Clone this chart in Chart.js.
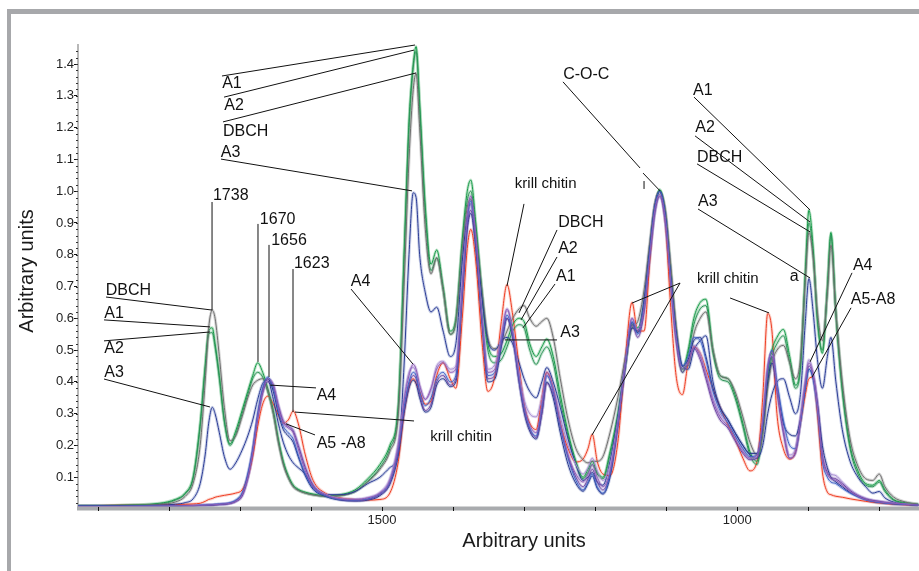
<!DOCTYPE html>
<html>
<head>
<meta charset="utf-8">
<script src="https://cdn.jsdelivr.net/npm/chart.js@4.4.1/dist/chart.umd.min.js"></script>
<style>
    html, body { margin: 0; padding: 0; background: #fff; }
    #wrap { position: relative; width: 919px; height: 571px; overflow: hidden; }
    #frame { position: absolute; left: 7px; top: 9px; width: 940px; height: 600px;
             border-top: 5px solid #a7a8ab; border-left: 4px solid #a7a8ab; }
    #spectra { position: absolute; left: 0; top: 0; }
</style>
</head>
<body>
<div id="wrap">
    <div id="frame"></div>
    <canvas id="spectra" width="919" height="571"></canvas>
</div>
<script>
// 波数 (cm-1)，从高到低
const wavenumbers = [
    1928, 1869, 1813, 1791, 1777, 1766, 1756, 1749, 1744, 1739,
    1735, 1729, 1722, 1714, 1706, 1697, 1689, 1682, 1675, 1668,
    1661, 1653, 1646, 1639, 1632, 1625, 1618, 1608, 1597, 1580,
    1559, 1538, 1520, 1503, 1489, 1477, 1469, 1462, 1456, 1452,
    1447, 1439, 1431, 1423, 1414, 1404, 1396, 1387, 1380, 1375,
    1368, 1359, 1351, 1341, 1332, 1324, 1316, 1307, 1300, 1292,
    1283, 1275, 1268, 1259, 1249, 1238, 1227, 1217, 1210, 1204,
    1197, 1189, 1179, 1168, 1158, 1148, 1140, 1131, 1123, 1116,
    1109, 1101, 1094, 1086, 1077, 1069, 1061, 1052, 1044, 1034,
    1024, 1013, 1003, 992, 982, 972, 964, 957, 951, 944,
    935, 926, 918, 911, 904, 899, 893, 887, 880, 873,
    868, 861, 852, 841, 830, 819, 809, 800, 792, 780,
    763, 745
];

const a1Values = [
    0.010, 0.012, 0.018, 0.030, 0.050, 0.100, 0.270, 0.450, 0.560, 0.570,
    0.520, 0.420, 0.280, 0.205, 0.245, 0.310, 0.370, 0.420, 0.460, 0.430,
    0.380, 0.310, 0.220, 0.150, 0.105, 0.075, 0.062, 0.053, 0.047, 0.042,
    0.045, 0.060, 0.095, 0.140, 0.200, 0.330, 0.800, 1.220, 1.400, 1.455,
    1.280, 0.950, 0.770, 0.815, 0.700, 0.560, 0.600, 0.850, 1.000, 1.035,
    0.900, 0.680, 0.520, 0.480, 0.490, 0.530, 0.580, 0.600, 0.590, 0.520,
    0.480, 0.510, 0.535, 0.480, 0.360, 0.240, 0.150, 0.100, 0.125, 0.150,
    0.115, 0.100, 0.180, 0.300, 0.450, 0.580, 0.570, 0.650, 0.820, 0.950,
    1.005, 0.930, 0.760, 0.560, 0.440, 0.500, 0.600, 0.650, 0.660, 0.500,
    0.420, 0.410, 0.360, 0.270, 0.180, 0.150, 0.260, 0.420, 0.500, 0.540,
    0.565, 0.480, 0.390, 0.450, 0.750, 0.940, 0.820, 0.600, 0.490, 0.700,
    0.870, 0.620, 0.380, 0.200, 0.120, 0.080, 0.075, 0.090, 0.060, 0.030,
    0.020, 0.015
];

const a2Values = [
    0.010, 0.011, 0.016, 0.028, 0.048, 0.095, 0.260, 0.440, 0.550, 0.555,
    0.510, 0.410, 0.275, 0.200, 0.235, 0.300, 0.360, 0.410, 0.430, 0.415,
    0.370, 0.300, 0.215, 0.145, 0.100, 0.072, 0.060, 0.050, 0.045, 0.040,
    0.042, 0.055, 0.088, 0.130, 0.190, 0.320, 0.780, 1.200, 1.390, 1.440,
    1.260, 0.930, 0.750, 0.790, 0.690, 0.550, 0.590, 0.830, 0.970, 1.000,
    0.880, 0.660, 0.500, 0.460, 0.470, 0.510, 0.560, 0.580, 0.570, 0.500,
    0.455, 0.490, 0.510, 0.460, 0.340, 0.230, 0.140, 0.095, 0.115, 0.140,
    0.110, 0.095, 0.170, 0.290, 0.440, 0.570, 0.560, 0.640, 0.810, 0.940,
    1.000, 0.920, 0.750, 0.550, 0.430, 0.490, 0.580, 0.630, 0.640, 0.490,
    0.410, 0.400, 0.350, 0.260, 0.170, 0.140, 0.250, 0.400, 0.480, 0.520,
    0.545, 0.460, 0.380, 0.440, 0.730, 0.900, 0.800, 0.590, 0.500, 0.690,
    0.860, 0.610, 0.370, 0.190, 0.110, 0.075, 0.070, 0.085, 0.055, 0.028,
    0.018, 0.013
];

const dbchValues = [
    0.010, 0.011, 0.015, 0.022, 0.040, 0.080, 0.200, 0.400, 0.570, 0.625,
    0.600, 0.480, 0.320, 0.215, 0.230, 0.290, 0.350, 0.390, 0.405, 0.410,
    0.375, 0.300, 0.210, 0.140, 0.098, 0.070, 0.058, 0.050, 0.044, 0.040,
    0.042, 0.055, 0.085, 0.125, 0.180, 0.300, 0.700, 1.100, 1.320, 1.370,
    1.200, 0.880, 0.740, 0.790, 0.690, 0.550, 0.590, 0.820, 0.950, 0.975,
    0.870, 0.680, 0.540, 0.505, 0.520, 0.560, 0.600, 0.630, 0.640, 0.600,
    0.575, 0.590, 0.600, 0.540, 0.410, 0.280, 0.190, 0.155, 0.145, 0.150,
    0.150, 0.165, 0.240, 0.350, 0.470, 0.570, 0.590, 0.690, 0.840, 0.960,
    1.000, 0.940, 0.780, 0.580, 0.450, 0.450, 0.550, 0.600, 0.620, 0.500,
    0.420, 0.410, 0.370, 0.290, 0.210, 0.170, 0.230, 0.380, 0.460, 0.500,
    0.515, 0.460, 0.410, 0.470, 0.720, 0.870, 0.790, 0.620, 0.530, 0.680,
    0.830, 0.620, 0.400, 0.220, 0.135, 0.095, 0.090, 0.110, 0.070, 0.038,
    0.022, 0.015
];

const a3Values = [
    0.010, 0.010, 0.012, 0.015, 0.020, 0.032, 0.080, 0.170, 0.270, 0.320,
    0.300, 0.240, 0.165, 0.125, 0.145, 0.185, 0.230, 0.280, 0.345, 0.395,
    0.405, 0.345, 0.270, 0.210, 0.170, 0.145, 0.130, 0.110, 0.070, 0.045,
    0.045, 0.055, 0.080, 0.100, 0.130, 0.180, 0.450, 0.800, 0.995, 0.980,
    0.800, 0.680, 0.620, 0.635, 0.560, 0.480, 0.520, 0.780, 0.920, 0.960,
    0.850, 0.660, 0.530, 0.500, 0.530, 0.540, 0.520, 0.460, 0.410, 0.370,
    0.350, 0.400, 0.445, 0.400, 0.320, 0.220, 0.140, 0.090, 0.100, 0.115,
    0.085, 0.075, 0.150, 0.290, 0.450, 0.570, 0.560, 0.660, 0.820, 0.950,
    1.000, 0.920, 0.740, 0.560, 0.450, 0.440, 0.500, 0.530, 0.545, 0.400,
    0.320, 0.280, 0.240, 0.200, 0.170, 0.160, 0.200, 0.300, 0.360, 0.400,
    0.410, 0.350, 0.300, 0.360, 0.590, 0.725, 0.620, 0.470, 0.380, 0.480,
    0.540, 0.400, 0.250, 0.150, 0.100, 0.070, 0.050, 0.055, 0.035, 0.022,
    0.015, 0.012
];

const a4Values = [
    0.008, 0.008, 0.009, 0.010, 0.010, 0.011, 0.012, 0.012, 0.013, 0.013,
    0.014, 0.015, 0.016, 0.018, 0.025, 0.045, 0.100, 0.180, 0.290, 0.370,
    0.410, 0.390, 0.320, 0.270, 0.255, 0.240, 0.190, 0.120, 0.070, 0.045,
    0.032, 0.030, 0.035, 0.050, 0.090, 0.200, 0.340, 0.420, 0.455, 0.440,
    0.390, 0.345, 0.380, 0.440, 0.460, 0.430, 0.440, 0.700, 0.920, 0.985,
    0.860, 0.600, 0.430, 0.440, 0.540, 0.630, 0.560, 0.420, 0.330, 0.265,
    0.240, 0.330, 0.430, 0.380, 0.270, 0.170, 0.110, 0.085, 0.110, 0.140,
    0.100, 0.070, 0.120, 0.270, 0.450, 0.600, 0.560, 0.630, 0.800, 0.940,
    0.990, 0.910, 0.730, 0.540, 0.440, 0.460, 0.510, 0.480, 0.420, 0.340,
    0.290, 0.260, 0.220, 0.180, 0.160, 0.170, 0.280, 0.450, 0.495, 0.380,
    0.250, 0.160, 0.180, 0.280, 0.400, 0.460, 0.420, 0.320, 0.160, 0.110,
    0.095, 0.090, 0.075, 0.055, 0.040, 0.030, 0.025, 0.022, 0.020, 0.018,
    0.015, 0.012
];

const a5Values = [
    0.009, 0.009, 0.010, 0.010, 0.011, 0.011, 0.012, 0.013, 0.013, 0.014,
    0.015, 0.016, 0.017, 0.020, 0.028, 0.050, 0.110, 0.190, 0.300, 0.380,
    0.415, 0.380, 0.310, 0.260, 0.240, 0.220, 0.170, 0.110, 0.065, 0.042,
    0.030, 0.028, 0.032, 0.048, 0.085, 0.190, 0.320, 0.400, 0.430, 0.420,
    0.370, 0.325, 0.350, 0.410, 0.430, 0.400, 0.420, 0.690, 0.910, 0.970,
    0.850, 0.600, 0.420, 0.430, 0.530, 0.610, 0.550, 0.410, 0.320, 0.255,
    0.230, 0.320, 0.420, 0.370, 0.260, 0.160, 0.090, 0.060, 0.085, 0.110,
    0.070, 0.050, 0.110, 0.270, 0.450, 0.590, 0.550, 0.640, 0.810, 0.950,
    1.000, 0.920, 0.740, 0.550, 0.450, 0.480, 0.540, 0.530, 0.470, 0.370,
    0.310, 0.270, 0.230, 0.190, 0.165, 0.170, 0.270, 0.440, 0.500, 0.400,
    0.280, 0.200, 0.190, 0.270, 0.380, 0.440, 0.410, 0.310, 0.150, 0.100,
    0.085, 0.080, 0.065, 0.050, 0.038, 0.028, 0.023, 0.020, 0.018, 0.016,
    0.014, 0.012
];

const a6Values = [
    0.008, 0.008, 0.009, 0.009, 0.010, 0.010, 0.011, 0.011, 0.012, 0.012,
    0.013, 0.014, 0.015, 0.017, 0.023, 0.040, 0.095, 0.175, 0.285, 0.365,
    0.400, 0.385, 0.325, 0.275, 0.260, 0.245, 0.200, 0.130, 0.075, 0.045,
    0.030, 0.026, 0.030, 0.045, 0.080, 0.180, 0.310, 0.390, 0.420, 0.410,
    0.360, 0.310, 0.330, 0.400, 0.420, 0.390, 0.410, 0.680, 0.890, 0.940,
    0.830, 0.590, 0.410, 0.420, 0.520, 0.600, 0.540, 0.400, 0.310, 0.250,
    0.225, 0.300, 0.395, 0.360, 0.260, 0.165, 0.100, 0.070, 0.095, 0.125,
    0.085, 0.060, 0.110, 0.260, 0.440, 0.580, 0.540, 0.620, 0.790, 0.930,
    0.985, 0.900, 0.720, 0.530, 0.430, 0.460, 0.505, 0.470, 0.410, 0.330,
    0.280, 0.255, 0.215, 0.175, 0.155, 0.160, 0.270, 0.430, 0.480, 0.370,
    0.240, 0.160, 0.175, 0.270, 0.390, 0.450, 0.420, 0.330, 0.170, 0.115,
    0.100, 0.095, 0.080, 0.058, 0.042, 0.032, 0.027, 0.024, 0.021, 0.018,
    0.015, 0.012
];

const a7Values = [
    0.008, 0.008, 0.009, 0.009, 0.010, 0.010, 0.011, 0.011, 0.012, 0.012,
    0.013, 0.014, 0.015, 0.018, 0.026, 0.048, 0.105, 0.185, 0.295, 0.375,
    0.410, 0.370, 0.300, 0.250, 0.230, 0.210, 0.165, 0.105, 0.062, 0.040,
    0.028, 0.025, 0.028, 0.042, 0.078, 0.170, 0.300, 0.380, 0.405, 0.395,
    0.350, 0.305, 0.320, 0.390, 0.410, 0.385, 0.400, 0.670, 0.880, 0.930,
    0.820, 0.580, 0.400, 0.410, 0.510, 0.600, 0.540, 0.400, 0.305, 0.245,
    0.220, 0.300, 0.400, 0.350, 0.240, 0.140, 0.080, 0.056, 0.080, 0.104,
    0.065, 0.047, 0.100, 0.260, 0.440, 0.587, 0.555, 0.640, 0.810, 0.950,
    1.000, 0.920, 0.740, 0.550, 0.450, 0.470, 0.530, 0.540, 0.480, 0.380,
    0.320, 0.280, 0.240, 0.200, 0.175, 0.175, 0.260, 0.400, 0.460, 0.380,
    0.270, 0.235, 0.230, 0.280, 0.380, 0.440, 0.410, 0.330, 0.200, 0.130,
    0.100, 0.085, 0.070, 0.052, 0.040, 0.030, 0.024, 0.021, 0.019, 0.016,
    0.014, 0.012
];

const a8Values = [
    0.008, 0.008, 0.009, 0.010, 0.010, 0.011, 0.011, 0.012, 0.012, 0.013,
    0.013, 0.014, 0.016, 0.018, 0.024, 0.042, 0.098, 0.178, 0.288, 0.368,
    0.405, 0.392, 0.330, 0.280, 0.265, 0.250, 0.205, 0.135, 0.078, 0.048,
    0.034, 0.031, 0.036, 0.052, 0.095, 0.210, 0.350, 0.430, 0.445, 0.430,
    0.385, 0.345, 0.375, 0.450, 0.465, 0.440, 0.450, 0.700, 0.900, 0.960,
    0.850, 0.610, 0.440, 0.455, 0.550, 0.625, 0.560, 0.430, 0.345, 0.300,
    0.290, 0.350, 0.420, 0.380, 0.290, 0.200, 0.140, 0.110, 0.130, 0.160,
    0.120, 0.090, 0.140, 0.280, 0.450, 0.600, 0.565, 0.640, 0.800, 0.930,
    0.980, 0.900, 0.720, 0.540, 0.445, 0.470, 0.515, 0.490, 0.430, 0.350,
    0.300, 0.270, 0.230, 0.185, 0.160, 0.165, 0.270, 0.440, 0.485, 0.380,
    0.250, 0.170, 0.190, 0.290, 0.410, 0.470, 0.430, 0.340, 0.180, 0.125,
    0.110, 0.105, 0.085, 0.062, 0.045, 0.034, 0.028, 0.025, 0.022, 0.019,
    0.016, 0.013
];

const krillValues = [
    0.010, 0.012, 0.013, 0.014, 0.015, 0.016, 0.018, 0.024, 0.030, 0.033,
    0.037, 0.040, 0.043, 0.046, 0.050, 0.060, 0.100, 0.165, 0.260, 0.330,
    0.355, 0.330, 0.295, 0.270, 0.280, 0.308, 0.270, 0.170, 0.090, 0.050,
    0.035, 0.030, 0.028, 0.030, 0.050, 0.150, 0.300, 0.385, 0.410, 0.395,
    0.370, 0.330, 0.340, 0.420, 0.460, 0.410, 0.380, 0.600, 0.820, 0.880,
    0.780, 0.520, 0.370, 0.420, 0.590, 0.706, 0.610, 0.450, 0.330, 0.270,
    0.250, 0.350, 0.430, 0.380, 0.270, 0.190, 0.148, 0.157, 0.190, 0.235,
    0.150, 0.110, 0.105, 0.210, 0.460, 0.650, 0.560, 0.560, 0.780, 0.950,
    1.000, 0.900, 0.650, 0.420, 0.360, 0.460, 0.510, 0.490, 0.440, 0.377,
    0.320, 0.265, 0.220, 0.160, 0.120, 0.150, 0.350, 0.615, 0.560, 0.300,
    0.190, 0.157, 0.180, 0.270, 0.360, 0.410, 0.415, 0.300, 0.116, 0.053,
    0.045, 0.040, 0.037, 0.032, 0.028, 0.024, 0.021, 0.019, 0.017, 0.015,
    0.013, 0.012
];

// 坐标轴刻度
const xTickValues = [1900, 1800, 1700, 1600, 1500, 1400, 1300, 1200, 1100, 1000, 900, 800];
const xTickLabels = [1500, 1000];
const yTickLabels = [0.1, 0.2, 0.3, 0.4, 0.5, 0.6, 0.7, 0.8, 0.9, 1.0, 1.1, 1.2, 1.3, 1.4];

// 峰位标注: [文字, 波数, 强度, 小字号]
const peakLabels = [
    ['A1', 1725, 1.337], ['A2', 1722, 1.268], ['DBCH', 1724, 1.189], ['A3', 1727, 1.123],
    ['1738', 1738, 0.985], ['1670', 1672, 0.912], ['1656', 1656, 0.846], ['1623', 1624, 0.771],
    ['DBCH', 1889, 0.686], ['A1', 1891, 0.614], ['A2', 1891, 0.504], ['A3', 1891, 0.428],
    ['A4', 1592, 0.356], ['A5 -A8', 1592, 0.205], ['krill chitin', 1432, 0.227, true],
    ['A4', 1544, 0.714],
    ['krill chitin', 1313, 1.023, true], ['DBCH', 1252, 0.900], ['A2', 1252, 0.818],
    ['A1', 1255, 0.730], ['A3', 1249, 0.554],
    ['C-O-C', 1245, 1.366],
    ['A1', 1062, 1.318], ['A2', 1059, 1.199], ['DBCH', 1056.5, 1.105], ['A3', 1055, 0.966],
    ['a', 926, 0.730], ['krill chitin', 1056.5, 0.724, true],
    ['A4', 837, 0.765], ['A5-A8', 840, 0.658]
];

// 引线: [波数1, 强度1, 波数2, 强度2]
const leaderLines = [
    [1725.3, 1.3625, 1453.5, 1.460], [1722.4, 1.296, 1455, 1.444],
    [1723.9, 1.218, 1452.1, 1.372], [1726.7, 1.101, 1457.8, 1.001],
    [1739.3, 0.966, 1739.3, 0.626], [1674.6, 0.897, 1674.6, 0.463],
    [1659.1, 0.831, 1659.1, 0.415], [1625.3, 0.755, 1625.3, 0.305],
    [1888.6, 0.667, 1739.3, 0.626], [1891.4, 0.595, 1742.2, 0.573],
    [1891.4, 0.529, 1742.2, 0.557], [1891.4, 0.409, 1742.2, 0.321],
    [1592.9, 0.381, 1657.7, 0.390], [1594.3, 0.233, 1635.2, 0.268],
    [1622.5, 0.305, 1454.9, 0.277], [1543.6, 0.692, 1456.4, 0.456],
    [1300.1, 0.960, 1324, 0.702], [1253.6, 0.878, 1307.1, 0.617],
    [1253.6, 0.793, 1304.3, 0.595], [1256.4, 0.708, 1301.5, 0.570],
    [1326.8, 0.532, 1253.6, 0.532],
    [1245.2, 1.344, 1136.7, 1.073], [1132.5, 1.057, 1108.6, 1.001], [1131.1, 1.032, 1131.1, 1.007],
    [1060.7, 1.296, 897.4, 0.941], [1059.3, 1.174, 897.4, 0.903],
    [1056.5, 1.086, 897.4, 0.872], [1055.1, 0.944, 897.4, 0.727],
    [1080.4, 0.711, 1148, 0.648], [1080.4, 0.711, 1204.3, 0.233],
    [1010, 0.664, 955.1, 0.617],
    [838.3, 0.743, 897.4, 0.463], [839.7, 0.633, 894.6, 0.415]
];

const series = [
    { label: 'A4', values: a4Values, color: '#8d5cb5', halo: 'rgba(160,120,200,0.35)' },
    { label: 'A5', values: a5Values, color: '#3f61c6', halo: 'rgba(110,140,215,0.35)' },
    { label: 'A6', values: a6Values, color: '#6e45a3', halo: 'rgba(150,120,190,0.35)' },
    { label: 'A7', values: a7Values, color: '#27388e', halo: 'rgba(100,115,180,0.3)' },
    { label: 'A8', values: a8Values, color: '#a58ad0', halo: 'rgba(190,170,225,0.4)' },
    { label: 'A3', values: a3Values, color: '#2a3b95', halo: 'rgba(110,125,190,0.35)' },
    { label: 'DBCH', values: dbchValues, color: '#6e6e6e', halo: 'rgba(150,150,150,0.4)' },
    { label: 'A2', values: a2Values, color: '#2e9158', halo: 'rgba(110,190,140,0.4)' },
    { label: 'A1', values: a1Values, color: '#169a48', halo: 'rgba(90,185,120,0.4)' },
    { label: 'krill chitin', values: krillValues, color: '#ee3c22', halo: 'rgba(245,140,120,0.35)' }
];

const FONT = '"Liberation Sans", Arial, sans-serif';

function toPoints(values) {
    return wavenumbers.map((w, i) => ({ x: w, y: values[i] }));
}

// 每条谱线画两遍: 浅色宽线打底, 细线在上
const datasets = [];
series.forEach(s => {
    datasets.push({
        label: s.label + ' halo',
        data: toPoints(s.values),
        borderColor: s.halo,
        borderWidth: 3,
        pointRadius: 0,
        cubicInterpolationMode: 'monotone',
        fill: false,
        order: 2
    });
    datasets.push({
        label: s.label,
        data: toPoints(s.values),
        borderColor: s.color,
        borderWidth: 1,
        pointRadius: 0,
        cubicInterpolationMode: 'monotone',
        fill: false,
        order: 1
    });
});

// 标注、坐标轴标题、x 轴灰条和次刻度
const annotatePlugin = {
    id: 'annotate',
    afterDraw(chart) {
        const { ctx, chartArea, scales: { x, y } } = chart;
        ctx.save();

        // x 轴灰条 + 刻度
        ctx.fillStyle = '#a9abae';
        ctx.fillRect(chartArea.left - 1, chartArea.bottom - 2.5, chartArea.right - chartArea.left + 1, 4);
        ctx.strokeStyle = '#111';
        ctx.lineWidth = 1;
        xTickValues.forEach(v => {
            const px = Math.round(x.getPixelForValue(v)) + 0.5;
            ctx.beginPath();
            ctx.moveTo(px, chartArea.bottom - 2);
            ctx.lineTo(px, chartArea.bottom + 2);
            ctx.stroke();
        });

        // y 轴次刻度 (每 0.02)
        ctx.strokeStyle = '#333';
        for (let i = 1; i <= 72; i++) {
            const py = Math.round(y.getPixelForValue(i * 0.02)) + 0.5;
            ctx.beginPath();
            ctx.moveTo(chartArea.left - 2, py);
            ctx.lineTo(chartArea.left, py);
            ctx.stroke();
        }

        // 引线
        ctx.strokeStyle = '#111';
        leaderLines.forEach(([w1, v1, w2, v2]) => {
            ctx.beginPath();
            ctx.moveTo(x.getPixelForValue(w1), y.getPixelForValue(v1));
            ctx.lineTo(x.getPixelForValue(w2), y.getPixelForValue(v2));
            ctx.stroke();
        });

        // 标注文字
        ctx.fillStyle = '#111';
        ctx.textAlign = 'left';
        ctx.textBaseline = 'middle';
        peakLabels.forEach(([text, w, v, small]) => {
            ctx.font = (small ? '15px ' : '16px ') + FONT;
            ctx.fillText(text, x.getPixelForValue(w), y.getPixelForValue(v));
        });

        // 坐标轴标题
        ctx.fillStyle = '#1a1a1a';
        ctx.font = '20px ' + FONT;
        ctx.textAlign = 'center';
        ctx.textBaseline = 'alphabetic';
        ctx.fillText('Arbitrary units', 524, 547);
        ctx.translate(33, 271);
        ctx.rotate(-Math.PI / 2);
        ctx.fillText('Arbitrary units', 0, 0);

        ctx.restore();
    }
};

Chart.defaults.font.family = FONT;

new Chart(document.getElementById('spectra'), {
    type: 'line',
    data: { datasets },
    plugins: [annotatePlugin],
    options: {
        responsive: false,
        animation: false,
        devicePixelRatio: 1,
        layout: { padding: { top: 45, right: 0, bottom: 0, left: 0 } },
        plugins: {
            legend: { display: false },
            tooltip: { enabled: false }
        },
        scales: {
            x: {
                type: 'linear',
                reverse: true,
                min: 744,
                max: 1928,
                afterBuildTicks: scale => { scale.ticks = xTickValues.map(v => ({ value: v })); },
                afterFit: scale => { scale.height = 62; },
                grid: { display: false, drawTicks: false },
                border: { display: false },
                ticks: {
                    autoSkip: false,
                    maxRotation: 0,
                    padding: 4,
                    color: '#222',
                    font: { size: 13 },
                    callback: v => xTickLabels.includes(v) ? String(v) : ''
                }
            },
            y: {
                min: 0,
                max: 1.46,
                afterBuildTicks: scale => { scale.ticks = yTickLabels.map(v => ({ value: v })); },
                afterFit: scale => { scale.width = 78; },
                grid: {
                    display: true,
                    drawOnChartArea: false,
                    drawTicks: true,
                    tickLength: 4,
                    tickColor: '#111'
                },
                border: { display: true, color: '#b8b8b8', width: 2 },
                ticks: {
                    autoSkip: false,
                    padding: 0,
                    color: '#222',
                    font: { size: 13 },
                    callback: v => v.toFixed(1)
                }
            }
        }
    }
});
</script>
</body>
</html>
